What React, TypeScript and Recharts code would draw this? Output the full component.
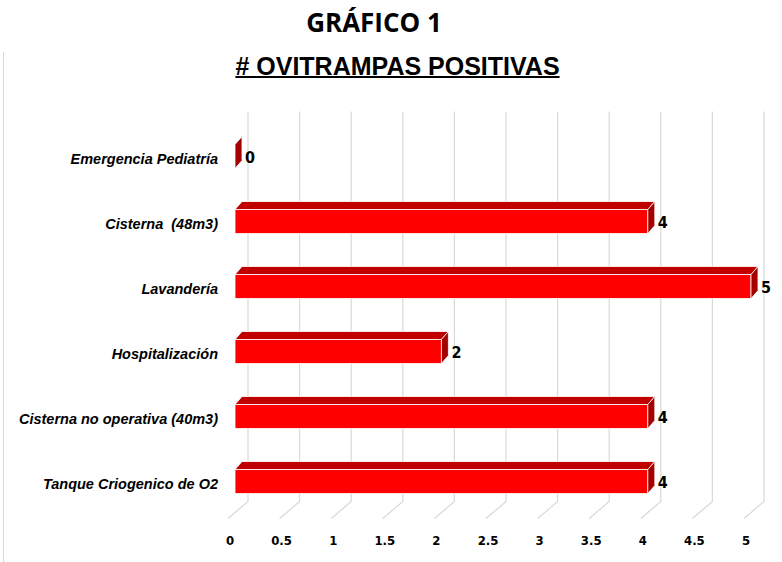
import { BarChart, Bar, XAxis, YAxis, CartesianGrid, LabelList } from 'recharts'

const categories = [
  'Emergencia Pediatría',
  'Cisterna  (48m3)',
  'Lavandería',
  'Hospitalización',
  'Cisterna no operativa (40m3)',
  'Tanque Criogenico de O2',
]
const positivas = [0, 4, 5, 2, 4, 4]
const xTicks = [0, 0.5, 1, 1.5, 2, 2.5, 3, 3.5, 4, 4.5, 5]

const data = categories.map((name, i) => ({ name, value: positivas[i] }))

// depth of the fake 3d box
const DX = 7
const DY = 8

function Box3D(props: any) {
  const { x, y, width, height } = props
  const w = Math.max(width || 0, 0)
  return (
    <g>
      <polygon
        points={`${x},${y} ${x + DX},${y - DY} ${x + w + DX},${y - DY} ${x + w},${y}`}
        fill="#C00000"
        stroke="#ffffff"
        strokeWidth={0.8}
      />
      <rect x={x} y={y} width={w} height={height} fill="#FF0000" stroke="#ffffff" strokeWidth={0.8} />
      <polygon
        points={`${x + w},${y} ${x + w + DX},${y - DY} ${x + w + DX},${y + height - DY} ${x + w},${y + height}`}
        fill="#A50000"
        stroke="#ffffff"
        strokeWidth={0.8}
      />
    </g>
  )
}

function GridLine(props: any) {
  const { x1, y1, y2 } = props
  const bx = x1 + 13
  return (
    <polyline
      key={props.key}
      points={`${bx},${y1 - 12} ${bx},${y2 - 12} ${x1 - 7},${y2 + 5}`}
      fill="none"
      stroke="#D9D9D9"
      strokeWidth={1.2}
    />
  )
}

function CatTick({ x, y, payload }: any) {
  return (
    <text
      x={x}
      y={y + 3}
      textAnchor="end"
      dominantBaseline="central"
      fontFamily="'Liberation Sans', Arial, sans-serif"
      fontStyle="italic"
      fontWeight="bold"
      fontSize={14.5}
      fill="#000"
      style={{ whiteSpace: 'pre' }}
    >
      {payload.value}
    </text>
  )
}

function ValTick({ x, payload }: any) {
  return (
    <text
      x={x - 5}
      y={540}
      textAnchor="middle"
      dominantBaseline="central"
      fontFamily="'Liberation Sans Narrow', 'DejaVu Sans Condensed', 'Arial Narrow', sans-serif"
      fontWeight="bold"
      fontSize={13}
      fill="#000"
    >
      {payload.value}
    </text>
  )
}

function ValueLabel(props: any) {
  const { x, y, width, height, value } = props
  return (
    <text
      x={x + Math.max(width, 0) + DX + 3}
      y={y + height / 2 + 1}
      dominantBaseline="central"
      fontFamily="'Liberation Sans Narrow', 'DejaVu Sans Condensed', 'Arial Narrow', sans-serif"
      fontWeight="bold"
      fontSize={16}
      fill="#000"
    >
      {value}
    </text>
  )
}

export default function App() {
  return (
    <div style={{ position: 'absolute', left: 0, top: 0, width: 782, height: 562, background: '#fff' }}>
      <div style={{ position: 'absolute', left: 3, top: 52, width: 1, height: 510, background: '#D9D9D9' }} />
      <div
        style={{
          position: 'absolute',
          left: 0,
          top: 4,
          width: 748,
          textAlign: 'center',
          fontFamily: "'Open Sans', sans-serif",
          fontWeight: 'bold',
          fontSize: 26,
          lineHeight: '36px',
        }}
      >
        GRÁFICO 1
      </div>
      <div
        style={{
          position: 'absolute',
          left: 0,
          top: 50,
          width: 795,
          textAlign: 'center',
          fontFamily: "'Liberation Sans', Arial, sans-serif",
          fontWeight: 'bold',
          fontSize: 25,
          lineHeight: '32px',
          textDecoration: 'underline',
          textDecorationThickness: 2,
        }}
      >
        # OVITRAMPAS POSITIVAS
      </div>
      <div style={{ position: 'absolute', left: 0, top: 0 }}>
        <BarChart
          width={782}
          height={562}
          data={data}
          layout="vertical"
          margin={{ top: 123.5, right: 31, bottom: 0, left: 0 }}
          barCategoryGap={0}
        >
          <CartesianGrid horizontal={false} vertical={GridLine} />
          <XAxis
            type="number"
            domain={[0, 5]}
            ticks={xTicks}
            axisLine={false}
            tickLine={false}
            height={48.5}
            tick={ValTick}
          />
          <YAxis
            type="category"
            dataKey="name"
            width={235}
            axisLine={false}
            tickLine={false}
            tickSize={0}
            tickMargin={17}
            tick={CatTick}
            interval={0}
          />
          <Bar dataKey="value" barSize={24} shape={Box3D} isAnimationActive={false}>
            <LabelList dataKey="value" content={ValueLabel} />
          </Bar>
        </BarChart>
      </div>
    </div>
  )
}
